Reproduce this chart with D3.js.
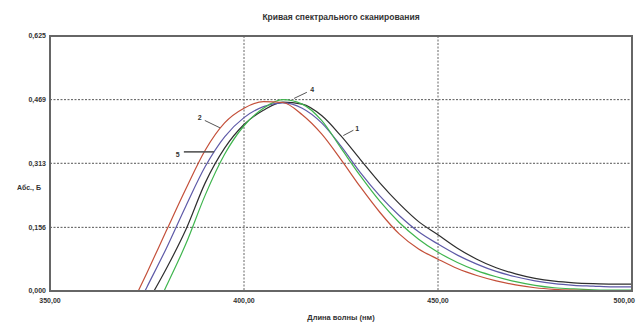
<!DOCTYPE html>
<html>
<head>
<meta charset="utf-8">
<script src="https://cdn.jsdelivr.net/npm/d3@7"></script>
<style>
  body { margin: 0; background: #fff; }
  text { font-family: "Liberation Sans", Arial, sans-serif; }
</style>
</head>
<body>
<div id="chart"></div>
<script>
// wavelength grid (nm) and absorbance for every curve
const wavelengths = [370, 375, 380, 385, 390, 395, 400, 405, 410, 415, 420, 425, 430,
    435, 440, 445, 450, 455, 460, 465, 470, 475, 480, 485, 490, 495, 500];

const curve2 = [-0.055, 0.045, 0.148, 0.250, 0.345, 0.412, 0.448, 0.464, 0.462, 0.432, 0.385, 0.322, 0.255,
    0.193, 0.140, 0.103, 0.078, 0.055, 0.038, 0.025, 0.015, 0.008, 0.004, 0.002, 0.001, 0.000, 0.000];
const curve5 = [-0.085, 0.010, 0.105, 0.208, 0.305, 0.378, 0.425, 0.452, 0.461, 0.448, 0.412, 0.355, 0.290,
    0.233, 0.185, 0.145, 0.115, 0.088, 0.066, 0.048, 0.035, 0.025, 0.018, 0.014, 0.012, 0.010, 0.010];
const curve1 = [-0.110, -0.030, 0.055, 0.150, 0.265, 0.350, 0.408, 0.443, 0.463, 0.458, 0.430, 0.380, 0.322,
    0.265, 0.214, 0.170, 0.138, 0.105, 0.078, 0.057, 0.042, 0.031, 0.024, 0.020, 0.018, 0.017, 0.017];
const curve4 = [-0.190, -0.090, 0.012, 0.115, 0.235, 0.335, 0.405, 0.448, 0.469, 0.458, 0.418, 0.350, 0.282,
    0.220, 0.168, 0.127, 0.095, 0.070, 0.050, 0.035, 0.023, 0.014, 0.008, 0.005, 0.003, 0.002, 0.002];

const xTicks = [350, 400, 450, 500];
const xTickLabels = ['350,00', '400,00', '450,00', '500,00'];
const yTicks = [0, 0.156, 0.313, 0.469, 0.625];
const yTickLabels = ['0,000', '0,156', '0,313', '0,469', '0,625'];

// curve number labels: text position and leader line, in data units
const labelNames = ['2', '5', '4', '1'];
const labelPos = [[388.6, 0.424], [382.9, 0.335], [417.6, 0.493], [429.2, 0.397]];
const leaderFrom = [[389.9, 0.418], [384.5, 0.341], [412.9, 0.472], [425.6, 0.381]];
const leaderTo = [[393.8, 0.400], [392.3, 0.341], [416.2, 0.487], [428.2, 0.394]];

const series = [
    { name: '1', values: curve1, color: '#2e2e2e' },
    { name: '5', values: curve5, color: '#5e5aa8' },
    { name: '4', values: curve4, color: '#3fb54e' },
    { name: '2', values: curve2, color: '#c4503a' }
];

const W = 636, H = 325;
const margin = { top: 36, right: 4, bottom: 34, left: 50 };
const width = W - margin.left - margin.right;
const height = H - margin.top - margin.bottom;

const svg = d3.select('#chart').append('svg')
    .attr('width', W)
    .attr('height', H);

const g = svg.append('g')
    .attr('transform', `translate(${margin.left},${margin.top})`);

const x = d3.scaleLinear().domain([350, 500]).range([0, width]);
const y = d3.scaleLinear().domain([0, 0.625]).range([height, 0]);

// title
svg.append('text')
    .attr('x', margin.left + width / 2)
    .attr('y', 20)
    .attr('text-anchor', 'middle')
    .style('font-size', '8.5px')
    .style('font-weight', '700')
    .style('fill', '#333')
    .text('Кривая спектрального сканирования');

// grid
g.append('g')
    .selectAll('line')
    .data(yTicks.slice(1, -1))
    .join('line')
    .attr('x1', 0).attr('x2', width)
    .attr('y1', d => y(d)).attr('y2', d => y(d))
    .attr('stroke', '#555')
    .attr('stroke-width', 1)
    .attr('stroke-dasharray', '2,1.5');

g.append('g')
    .selectAll('line')
    .data(xTicks.slice(1, -1))
    .join('line')
    .attr('x1', d => x(d)).attr('x2', d => x(d))
    .attr('y1', 0).attr('y2', height)
    .attr('stroke', '#666')
    .attr('stroke-width', 1)
    .attr('stroke-dasharray', '2,1.5');

// clip for curves
svg.append('defs').append('clipPath')
    .attr('id', 'plot-clip')
    .append('rect')
    .attr('width', width)
    .attr('height', height);

const line = d3.line()
    .x((d, i) => x(wavelengths[i]))
    .y(d => y(d))
    .curve(d3.curveMonotoneX);

g.append('g')
    .attr('clip-path', 'url(#plot-clip)')
    .selectAll('path')
    .data(series)
    .join('path')
    .attr('d', d => line(d.values))
    .attr('fill', 'none')
    .attr('stroke', d => d.color)
    .attr('stroke-width', 1.2);

// frame
g.append('rect')
    .attr('width', width)
    .attr('height', height)
    .attr('fill', 'none')
    .attr('stroke', '#666')
    .attr('stroke-width', 2);

// y tick labels
g.append('g')
    .selectAll('text')
    .data(yTicks)
    .join('text')
    .attr('x', -4)
    .attr('y', d => y(d))
    .attr('dy', '0.35em')
    .attr('text-anchor', 'end')
    .style('font-size', '7px')
    .style('font-weight', '700')
    .style('fill', '#333')
    .text((d, i) => yTickLabels[i]);

// x tick labels (last one pulled inside the right edge)
g.append('g')
    .selectAll('text')
    .data(xTicks)
    .join('text')
    .attr('x', d => x(d))
    .attr('y', height + 12)
    .attr('text-anchor', (d, i) => i === xTicks.length - 1 ? 'end' : 'middle')
    .attr('dx', (d, i) => i === xTicks.length - 1 ? 3 : 0)
    .style('font-size', '7px')
    .style('font-weight', '700')
    .style('fill', '#333')
    .text((d, i) => xTickLabels[i]);

// axis titles
svg.append('text')
    .attr('x', margin.left + width / 2)
    .attr('y', 320)
    .attr('text-anchor', 'middle')
    .style('font-size', '7.5px')
    .style('font-weight', '700')
    .style('fill', '#333')
    .text('Длина волны (нм)');

svg.append('text')
    .attr('x', 29)
    .attr('y', 190)
    .attr('text-anchor', 'middle')
    .style('font-size', '7px')
    .style('font-weight', '700')
    .style('fill', '#333')
    .text('Абс., Б');

// curve labels with leaders
const ann = g.append('g');
labelNames.forEach((name, i) => {
    ann.append('line')
        .attr('x1', x(leaderFrom[i][0])).attr('y1', y(leaderFrom[i][1]))
        .attr('x2', x(leaderTo[i][0])).attr('y2', y(leaderTo[i][1]))
        .attr('stroke', '#555')
        .attr('stroke-width', name === '5' ? 1.6 : 1);
    ann.append('text')
        .attr('x', x(labelPos[i][0]))
        .attr('y', y(labelPos[i][1]))
        .attr('dy', '0.35em')
        .attr('text-anchor', 'middle')
        .style('font-size', '7px')
        .style('font-weight', '700')
        .style('fill', '#333')
        .text(name);
});
</script>
</body>
</html>
